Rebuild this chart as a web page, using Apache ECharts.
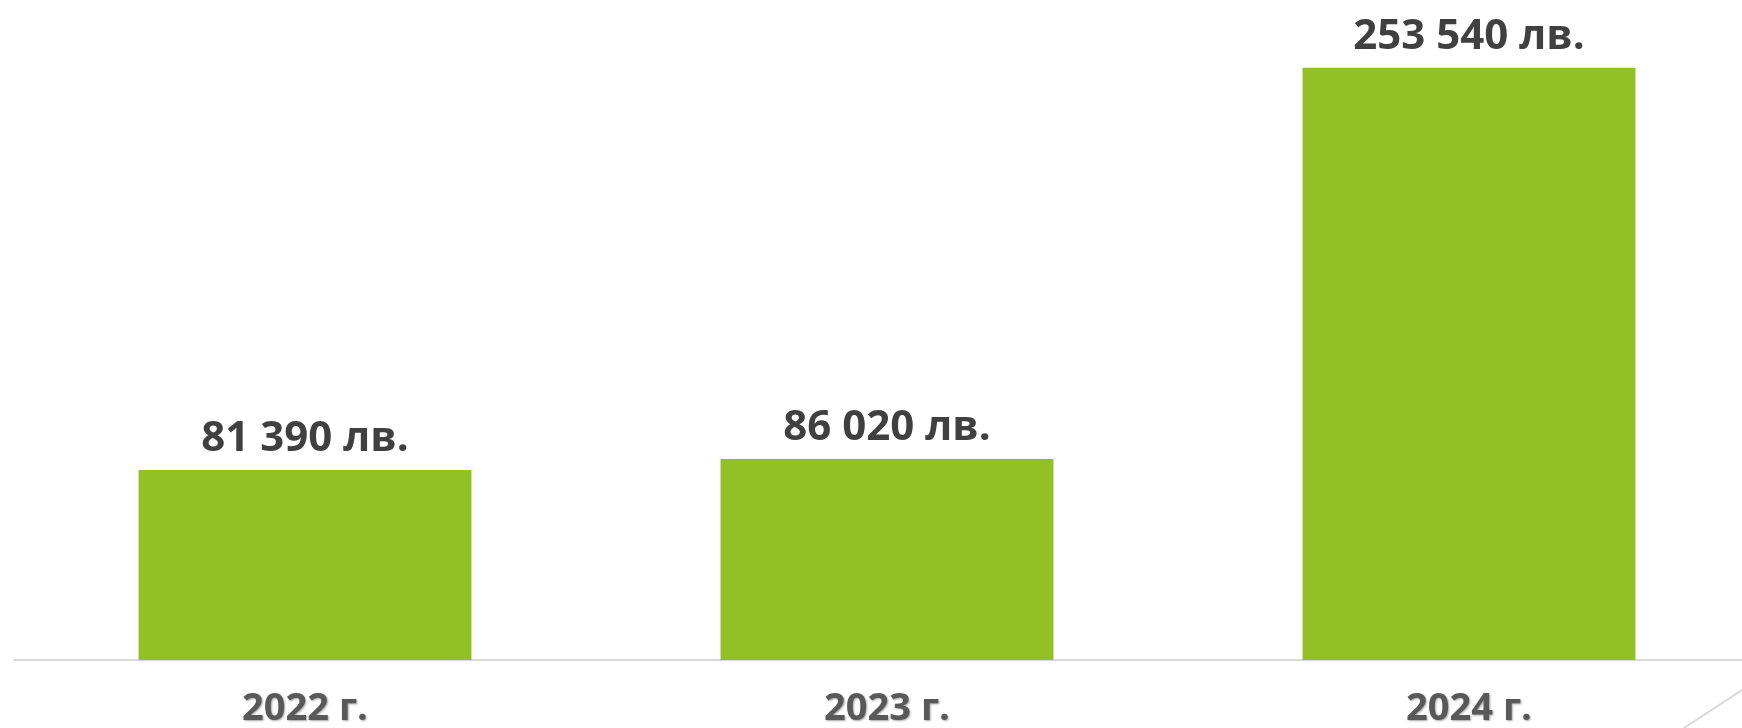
<!DOCTYPE html>
<html>
<head>
<meta charset="utf-8">
<script src="https://cdn.jsdelivr.net/npm/echarts@6/dist/echarts.min.js"></script>
<style>
html,body{margin:0;padding:0;background:#fff;}
#chart{width:1742px;height:728px;}
</style>
</head>
<body>
<div id="chart"></div>
<script>
const categories = ['2022 г.', '2023 г.', '2024 г.'];
const values = [81390, 86020, 253540];
const valueLabels = ['81 390 лв.', '86 020 лв.', '253 540 лв.'];

const chart = echarts.init(document.getElementById('chart'));
chart.setOption({
  animation: false,
  backgroundColor: '#ffffff',
  grid: { left: 14, right: -18, top: 6, bottom: 68, containLabel: false, outerBoundsMode: 'none' },
  xAxis: {
    type: 'category',
    data: categories,
    axisLine: { show: true, lineStyle: { color: '#d9d9d9', width: 2 } },
    axisTick: { show: false },
    axisLabel: {
      margin: 30,
      color: '#595959',
      fontFamily: 'Open Sans',
      fontWeight: 'bold',
      fontSize: 38,
      textShadowColor: 'rgba(0,0,0,0.35)',
      textShadowBlur: 2,
      textShadowOffsetX: 1,
      textShadowOffsetY: 1
    }
  },
  yAxis: {
    type: 'value',
    min: 0,
    max: 280000,
    show: false,
    splitLine: { show: false }
  },
  series: [{
    type: 'bar',
    data: values,
    barWidth: '57.2%',
    itemStyle: { color: '#92c126' },
    label: {
      show: true,
      position: 'top',
      distance: 10,
      color: '#404040',
      fontFamily: 'Open Sans',
      fontWeight: 'bold',
      fontSize: 42,
      formatter: p => valueLabels[p.dataIndex]
    }
  }],
  graphic: [{
    type: 'line',
    shape: { x1: 1742, y1: 690, x2: 1684, y2: 728 },
    style: { stroke: '#d9d9d9', lineWidth: 2 }
  }]
});
</script>
</body>
</html>
